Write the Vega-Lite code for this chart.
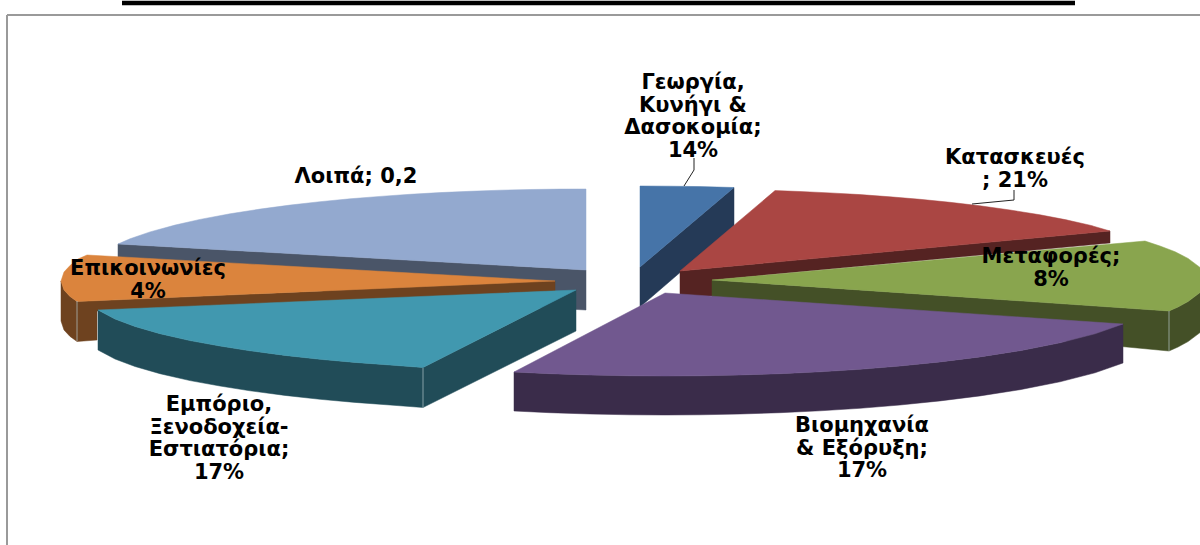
{"$schema":"https://vega.github.io/schema/vega-lite/v6.json","autosize":{"type":"fit","contains":"padding"},"width":1200,"height":545,"padding":0,"background":"white","config":{"view":{"stroke":null}},
"resolve":{"scale":{"stroke":"independent","strokeWidth":"independent"}},
"datasets":{
"shapes":[
{"p":"L1","i":1,"x":118,"y":244},{"p":"L1","i":2,"x":586,"y":270},{"p":"L1","i":3,"x":586,"y":310},{"p":"L1","i":4,"x":400,"y":300},{"p":"L1","i":5,"x":118,"y":265},
{"p":"L2","i":1,"x":586,"y":189},{"p":"L2","i":2,"x":560,"y":189.1},{"p":"L2","i":3,"x":530,"y":189.5},{"p":"L2","i":4,"x":500,"y":190.2},{"p":"L2","i":5,"x":470,"y":191.3},{"p":"L2","i":6,"x":440,"y":192.6},{"p":"L2","i":7,"x":410,"y":194.3},{"p":"L2","i":8,"x":380,"y":196.4},{"p":"L2","i":9,"x":350,"y":198.8},{"p":"L2","i":10,"x":320,"y":201.7},{"p":"L2","i":11,"x":290,"y":205.1},{"p":"L2","i":12,"x":260,"y":209.1},{"p":"L2","i":13,"x":230,"y":213.8},{"p":"L2","i":14,"x":200,"y":219.4},{"p":"L2","i":15,"x":175,"y":225.1},{"p":"L2","i":16,"x":150,"y":231.9},{"p":"L2","i":17,"x":130,"y":238.8},{"p":"L2","i":18,"x":118,"y":244},{"p":"L2","i":19,"x":586,"y":270},
{"p":"G1","i":1,"x":640,"y":267},{"p":"G1","i":2,"x":734,"y":187.5},{"p":"G1","i":3,"x":734,"y":226},{"p":"G1","i":4,"x":640,"y":307},
{"p":"G2","i":1,"x":640,"y":186},{"p":"G2","i":2,"x":670,"y":186.2},{"p":"G2","i":3,"x":700,"y":186.6},{"p":"G2","i":4,"x":734,"y":187.5},{"p":"G2","i":5,"x":640,"y":267},
{"p":"K1","i":1,"x":680,"y":271},{"p":"K1","i":2,"x":1110,"y":231},{"p":"K1","i":3,"x":1110,"y":243},{"p":"K1","i":4,"x":712,"y":280},{"p":"K1","i":5,"x":712,"y":296},{"p":"K1","i":6,"x":680,"y":296},
{"p":"K2","i":1,"x":680,"y":271},{"p":"K2","i":2,"x":775,"y":190.6},{"p":"K2","i":3,"x":800,"y":191.5},{"p":"K2","i":4,"x":830,"y":192.9},{"p":"K2","i":5,"x":860,"y":194.6},{"p":"K2","i":6,"x":890,"y":196.8},{"p":"K2","i":7,"x":920,"y":199.3},{"p":"K2","i":8,"x":950,"y":202.3},{"p":"K2","i":9,"x":980,"y":205.8},{"p":"K2","i":10,"x":1010,"y":210},{"p":"K2","i":11,"x":1040,"y":214.8},{"p":"K2","i":12,"x":1065,"y":219.6},{"p":"K2","i":13,"x":1090,"y":225.2},{"p":"K2","i":14,"x":1110,"y":231},
{"p":"M1","i":1,"x":712,"y":280},{"p":"M1","i":2,"x":1169,"y":311},{"p":"M1","i":3,"x":1169,"y":351},{"p":"M1","i":4,"x":1000,"y":335},{"p":"M1","i":5,"x":712,"y":320},
{"p":"M3","i":1,"x":1169,"y":311},{"p":"M3","i":2,"x":1178,"y":307},{"p":"M3","i":3,"x":1188,"y":301.6},{"p":"M3","i":4,"x":1200,"y":292.6},{"p":"M3","i":5,"x":1206,"y":280},{"p":"M3","i":6,"x":1206,"y":320},{"p":"M3","i":7,"x":1200,"y":332.6},{"p":"M3","i":8,"x":1188,"y":341.6},{"p":"M3","i":9,"x":1178,"y":347},{"p":"M3","i":10,"x":1169,"y":351},
{"p":"M2","i":1,"x":712,"y":280},{"p":"M2","i":2,"x":1145,"y":241},{"p":"M2","i":3,"x":1160,"y":246},{"p":"M2","i":4,"x":1175,"y":251.7},{"p":"M2","i":5,"x":1188,"y":258.4},{"p":"M2","i":6,"x":1200,"y":267.4},{"p":"M2","i":7,"x":1206,"y":280},{"p":"M2","i":8,"x":1200,"y":292.6},{"p":"M2","i":9,"x":1188,"y":301.6},{"p":"M2","i":10,"x":1178,"y":307},{"p":"M2","i":11,"x":1169,"y":311},
{"p":"E1","i":1,"x":61,"y":281},{"p":"E1","i":2,"x":64,"y":290},{"p":"E1","i":3,"x":70,"y":296.4},{"p":"E1","i":4,"x":77,"y":301.5},{"p":"E1","i":5,"x":555,"y":281},{"p":"E1","i":6,"x":555,"y":291},{"p":"E1","i":7,"x":97,"y":311},{"p":"E1","i":8,"x":97,"y":340},{"p":"E1","i":9,"x":77,"y":341.5},{"p":"E1","i":10,"x":70,"y":336.4},{"p":"E1","i":11,"x":64,"y":330},{"p":"E1","i":12,"x":61,"y":321},
{"p":"E2","i":1,"x":555,"y":281},{"p":"E2","i":2,"x":87,"y":255},{"p":"E2","i":3,"x":78,"y":259},{"p":"E2","i":4,"x":70,"y":265.6},{"p":"E2","i":5,"x":64,"y":272},{"p":"E2","i":6,"x":61,"y":281},{"p":"E2","i":7,"x":64,"y":290},{"p":"E2","i":8,"x":70,"y":296.4},{"p":"E2","i":9,"x":77,"y":301.5},
{"p":"T1","i":1,"x":98,"y":310},{"p":"T1","i":2,"x":115,"y":319},{"p":"T1","i":3,"x":135,"y":326.5},{"p":"T1","i":4,"x":160,"y":333.7},{"p":"T1","i":5,"x":190,"y":340.6},{"p":"T1","i":6,"x":220,"y":346},{"p":"T1","i":7,"x":250,"y":350.8},{"p":"T1","i":8,"x":285,"y":355.4},{"p":"T1","i":9,"x":320,"y":359.3},{"p":"T1","i":10,"x":355,"y":362.4},{"p":"T1","i":11,"x":390,"y":365},{"p":"T1","i":12,"x":423,"y":367.5},{"p":"T1","i":13,"x":423,"y":407.5},{"p":"T1","i":14,"x":390,"y":405},{"p":"T1","i":15,"x":355,"y":402.4},{"p":"T1","i":16,"x":320,"y":399.3},{"p":"T1","i":17,"x":285,"y":395.4},{"p":"T1","i":18,"x":250,"y":390.8},{"p":"T1","i":19,"x":220,"y":386},{"p":"T1","i":20,"x":190,"y":380.6},{"p":"T1","i":21,"x":160,"y":373.7},{"p":"T1","i":22,"x":135,"y":366.5},{"p":"T1","i":23,"x":115,"y":359},{"p":"T1","i":24,"x":98,"y":350},
{"p":"T3","i":1,"x":423,"y":367.5},{"p":"T3","i":2,"x":576,"y":290},{"p":"T3","i":3,"x":576,"y":331},{"p":"T3","i":4,"x":423,"y":407.5},
{"p":"T2","i":1,"x":576,"y":290},{"p":"T2","i":2,"x":98,"y":310},{"p":"T2","i":3,"x":115,"y":319},{"p":"T2","i":4,"x":135,"y":326.5},{"p":"T2","i":5,"x":160,"y":333.7},{"p":"T2","i":6,"x":190,"y":340.6},{"p":"T2","i":7,"x":220,"y":346},{"p":"T2","i":8,"x":250,"y":350.8},{"p":"T2","i":9,"x":285,"y":355.4},{"p":"T2","i":10,"x":320,"y":359.3},{"p":"T2","i":11,"x":355,"y":362.4},{"p":"T2","i":12,"x":390,"y":365},{"p":"T2","i":13,"x":423,"y":367.5},
{"p":"B1","i":1,"x":514,"y":372},{"p":"B1","i":2,"x":550,"y":373.7},{"p":"B1","i":3,"x":590,"y":375},{"p":"B1","i":4,"x":630,"y":375.8},{"p":"B1","i":5,"x":665,"y":376},{"p":"B1","i":6,"x":700,"y":375.8},{"p":"B1","i":7,"x":740,"y":375},{"p":"B1","i":8,"x":780,"y":373.7},{"p":"B1","i":9,"x":820,"y":371.8},{"p":"B1","i":10,"x":860,"y":369.3},{"p":"B1","i":11,"x":900,"y":366},{"p":"B1","i":12,"x":940,"y":361.9},{"p":"B1","i":13,"x":980,"y":356.9},{"p":"B1","i":14,"x":1020,"y":350.7},{"p":"B1","i":15,"x":1060,"y":342.8},{"p":"B1","i":16,"x":1095,"y":333.8},{"p":"B1","i":17,"x":1123,"y":324},{"p":"B1","i":18,"x":1123,"y":363},{"p":"B1","i":19,"x":1095,"y":372.8},{"p":"B1","i":20,"x":1060,"y":381.8},{"p":"B1","i":21,"x":1020,"y":389.7},{"p":"B1","i":22,"x":980,"y":395.9},{"p":"B1","i":23,"x":940,"y":400.9},{"p":"B1","i":24,"x":900,"y":405},{"p":"B1","i":25,"x":860,"y":408.3},{"p":"B1","i":26,"x":820,"y":410.8},{"p":"B1","i":27,"x":780,"y":412.7},{"p":"B1","i":28,"x":740,"y":414},{"p":"B1","i":29,"x":700,"y":414.8},{"p":"B1","i":30,"x":665,"y":415},{"p":"B1","i":31,"x":630,"y":414.8},{"p":"B1","i":32,"x":590,"y":414},{"p":"B1","i":33,"x":550,"y":412.7},{"p":"B1","i":34,"x":514,"y":411},
{"p":"B2","i":1,"x":665,"y":293},{"p":"B2","i":2,"x":1123,"y":324},{"p":"B2","i":3,"x":1095,"y":333.8},{"p":"B2","i":4,"x":1060,"y":342.8},{"p":"B2","i":5,"x":1020,"y":350.7},{"p":"B2","i":6,"x":980,"y":356.9},{"p":"B2","i":7,"x":940,"y":361.9},{"p":"B2","i":8,"x":900,"y":366},{"p":"B2","i":9,"x":860,"y":369.3},{"p":"B2","i":10,"x":820,"y":371.8},{"p":"B2","i":11,"x":780,"y":373.7},{"p":"B2","i":12,"x":740,"y":375},{"p":"B2","i":13,"x":700,"y":375.8},{"p":"B2","i":14,"x":665,"y":376},{"p":"B2","i":15,"x":630,"y":375.8},{"p":"B2","i":16,"x":590,"y":375},{"p":"B2","i":17,"x":550,"y":373.7},{"p":"B2","i":18,"x":514,"y":372}
],
"strokes":[
{"k":"frame","n":"left","i":1,"x":7,"y":15},{"k":"frame","n":"left","i":2,"x":7,"y":545},
{"k":"frame","n":"top","i":1,"x":7,"y":15},{"k":"frame","n":"top","i":2,"x":1200,"y":15},
{"k":"bar","n":"bar","i":1,"x":122,"y":3},{"k":"bar","n":"bar","i":2,"x":1075,"y":3},
{"k":"leader","n":"l1","i":1,"x":694,"y":158},{"k":"leader","n":"l1","i":2,"x":694,"y":170},{"k":"leader","n":"l1","i":3,"x":684,"y":186},
{"k":"leader","n":"l2","i":1,"x":1014,"y":190},{"k":"leader","n":"l2","i":2,"x":1014,"y":200},{"k":"leader","n":"l2","i":3,"x":972,"y":204},
{"k":"seam","n":"s1","i":1,"x":423,"y":368},{"k":"seam","n":"s1","i":2,"x":423,"y":408},
{"k":"seam","n":"s2","i":1,"x":1169,"y":311},{"k":"seam","n":"s2","i":2,"x":1169,"y":351},
{"k":"seam","n":"s3","i":1,"x":77,"y":301},{"k":"seam","n":"s3","i":2,"x":77,"y":341}
],
"labels":[
{"t":"Γεωργία,\nΚυνήγι &\nΔασοκομία;\n14%","x":693,"y":72},
{"t":"Κατασκευές\n; 21%","x":1015,"y":147},
{"t":"Μεταφορές;\n8%","x":1051,"y":246},
{"t":"Λοιπά;  0,2","x":356,"y":166},
{"t":"Επικοινωνίες\n4%","x":148,"y":258},
{"t":"Εμπόριο,\nΞενοδοχεία-\nΕστιατόρια;\n17%","x":219,"y":394},
{"t":"Βιομηχανία\n& Εξόρυξη;\n17%","x":862,"y":415}
]},
"layer":[
{"data":{"name":"shapes"},"mark":{"type":"line","interpolate":"linear-closed","strokeWidth":0.5,"clip":true},
"encoding":{
"x":{"field":"x","type":"quantitative","scale":{"domain":[0,1200],"nice":false,"zero":false},"axis":null},
"y":{"field":"y","type":"quantitative","scale":{"domain":[545,0],"nice":false,"zero":false},"axis":null},
"order":{"field":"i","type":"quantitative"},
"detail":{"field":"p"},
"fill":{"field":"p","type":"nominal","legend":null,"scale":{"domain":["L1","L2","G1","G2","K1","K2","M1","M3","M2","E1","E2","T1","T3","T2","B1","B2"],"range":["#4A5568","#93A9CF","#253A57","#4674A8","#552322","#AA4643","#445027","#445027","#89A54E","#6E421F","#DB843D","#214C58","#214C58","#4198AF","#3A2C4A","#71588F"]}},
"stroke":{"field":"p","type":"nominal","legend":null,"scale":{"domain":["L1","L2","G1","G2","K1","K2","M1","M3","M2","E1","E2","T1","T3","T2","B1","B2"],"range":["#4A5568","#93A9CF","#253A57","#4674A8","#552322","#AA4643","#445027","#445027","#89A54E","#6E421F","#DB843D","#214C58","#214C58","#4198AF","#3A2C4A","#71588F"]}}
}},
{"data":{"name":"strokes"},"mark":{"type":"line","clip":true},
"encoding":{
"x":{"field":"x","type":"quantitative","scale":{"domain":[0,1200],"nice":false,"zero":false},"axis":null},
"y":{"field":"y","type":"quantitative","scale":{"domain":[545,0],"nice":false,"zero":false},"axis":null},
"order":{"field":"i","type":"quantitative"},
"detail":{"field":"n"},
"stroke":{"field":"k","type":"nominal","legend":null,"scale":{"domain":["frame","bar","leader","seam"],"range":["#9a9a9a","#000000","#222222","#b5c4c8"]}},
"strokeWidth":{"field":"k","type":"nominal","legend":null,"scale":{"type":"ordinal","domain":["frame","bar","leader","seam"],"range":[2,4.5,1,0.7]}}
}},
{"data":{"name":"labels"},"mark":{"type":"text","font":"DejaVu Sans","fontWeight":"bold","fontSize":21,"lineHeight":22.5,"lineBreak":"\n","align":"center","baseline":"top","color":"#000000"},
"encoding":{
"x":{"field":"x","type":"quantitative","scale":{"domain":[0,1200],"nice":false,"zero":false},"axis":null},
"y":{"field":"y","type":"quantitative","scale":{"domain":[545,0],"nice":false,"zero":false},"axis":null},
"text":{"field":"t"}
}}
]}
